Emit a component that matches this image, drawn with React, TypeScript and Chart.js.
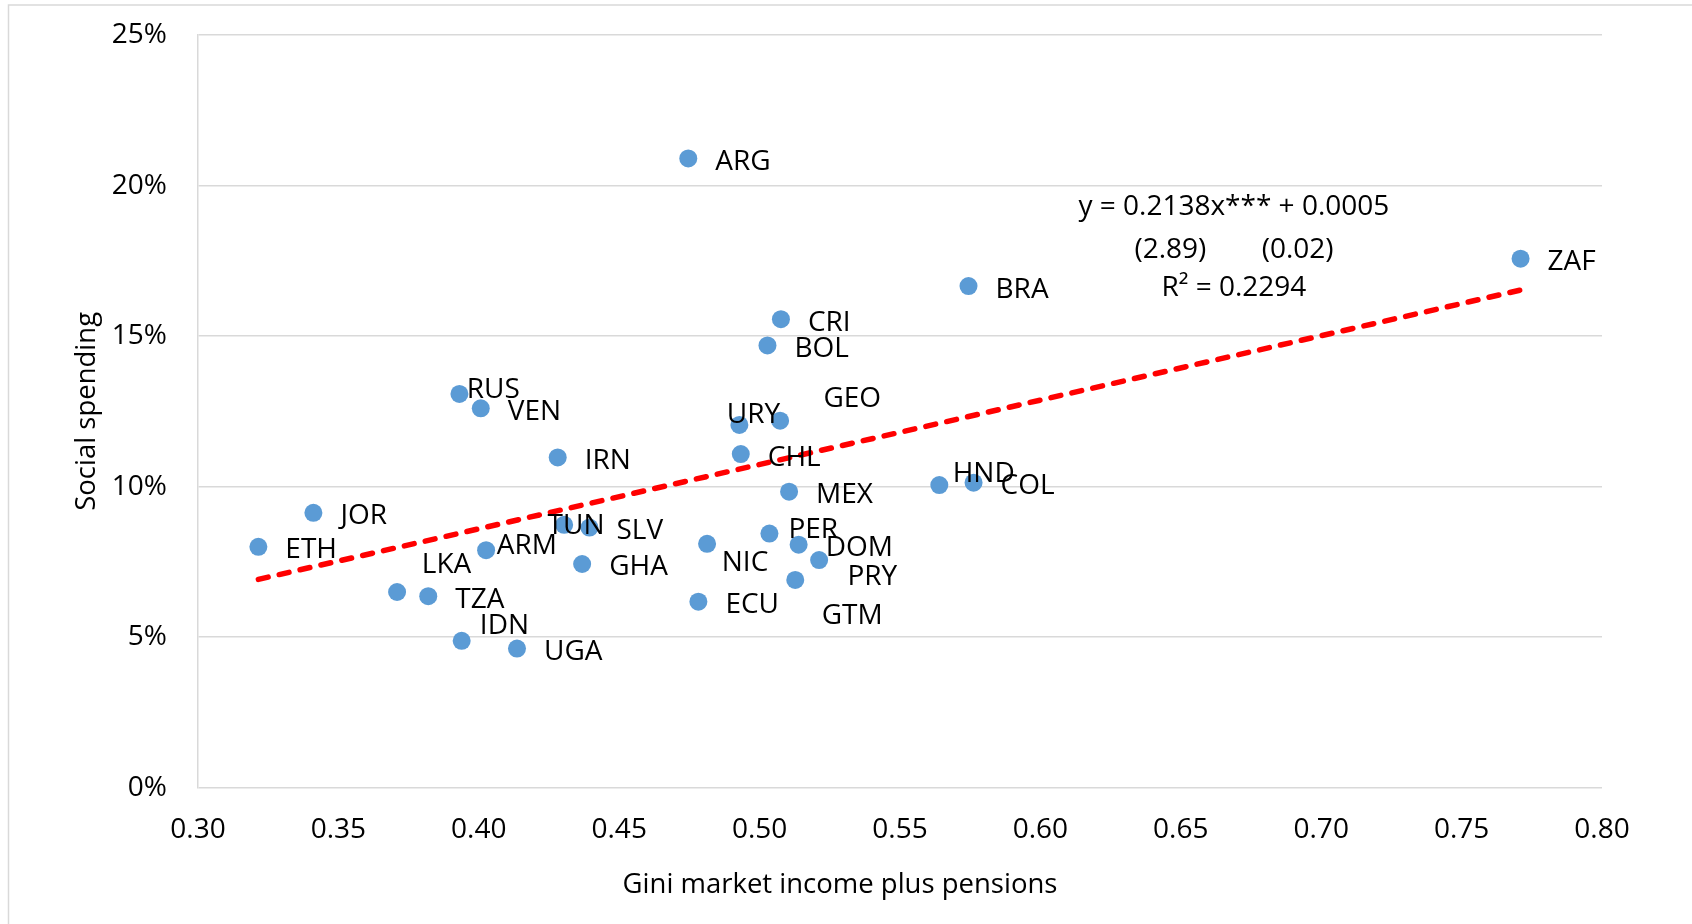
import React, { useEffect, useRef } from "react";
import { Chart, registerables } from "chart.js";

Chart.register(...registerables);

// ---- Data ----
const countries = ["ARG", "ZAF", "BRA", "CRI", "BOL", "RUS", "VEN", "URY", "GEO", "IRN", "CHL", "MEX", "HND", "COL", "JOR", "ETH", "TUN", "SLV", "ARM", "GHA", "NIC", "PER", "DOM", "PRY", "GTM", "ECU", "LKA", "TZA", "IDN", "UGA"];
const giniValues = [0.4746, 0.7710, 0.5744, 0.5076, 0.5028, 0.3931, 0.4007, 0.4928, 0.5073, 0.4281, 0.4933, 0.5105, 0.5640, 0.5762, 0.3411, 0.3215, 0.4304, 0.4394, 0.4026, 0.4368, 0.4813, 0.5035, 0.5139, 0.5212, 0.5127, 0.4782, 0.3709, 0.3820, 0.3939, 0.4136];
const spendingValues = [0.2090, 0.1757, 0.1666, 0.1556, 0.1469, 0.1308, 0.1260, 0.1205, 0.1219, 0.1097, 0.1108, 0.0983, 0.1005, 0.1013, 0.0913, 0.0800, 0.0873, 0.0864, 0.0789, 0.0743, 0.0810, 0.0844, 0.0807, 0.0756, 0.0690, 0.0618, 0.0650, 0.0636, 0.0488, 0.0462];

// Excel linear trendline (y = 0.2138x + 0.0005), endpoints as drawn
const trendX = [0.3215, 0.771];
const trendY = [0.0692, 0.1653];

const xTickValues = [0.30, 0.35, 0.40, 0.45, 0.50, 0.55, 0.60, 0.65, 0.70, 0.75, 0.80];
const xTickLabels = ["0.30", "0.35", "0.40", "0.45", "0.50", "0.55", "0.60", "0.65", "0.70", "0.75", "0.80"];
const yTickValues = [0, 0.05, 0.10, 0.15, 0.20, 0.25];
const yTickLabels = ["0%", "5%", "10%", "15%", "20%", "25%"];

const xAxisTitle = "Gini market income plus pensions";
const yAxisTitle = "Social spending";

// regression annotation texts, anchored in data coordinates
const annotationTexts = ["y = 0.2138x*** + 0.0005", "(2.89)", "(0.02)", "R\u00B2 = 0.2294"];
const annotationX = [0.6689, 0.6463, 0.6916, 0.6689];
const annotationY = [0.1934, 0.1794, 0.1794, 0.1667];

// ---- Label placement (pixel offsets from point centre to label's left / cap-centre) ----
const defaultOffset: [number, number] = [27, 1.5];
const labelOffsets: Record<string, [number, number]> = {
  RUS: [7.4, -5.7],
  URY: [-12.6, -11.7],
  GEO: [43.3, -24],
  TUN: [-16.6, -1],
  ARM: [10.7, -6],
  NIC: [14.7, 17.3],
  PER: [19, -6],
  PRY: [28.3, 15],
  GTM: [26.4, 34],
  LKA: [24.7, -28.7],
  IDN: [18.2, -16.3],
  HND: [13.4, -13.3],
};

const FONT = "'Open Sans', 'DejaVu Sans', sans-serif";

export default function App() {
  const ref = useRef<HTMLCanvasElement>(null);

  useEffect(() => {
    const canvas = ref.current;
    if (!canvas) return;

    const framePlugin = {
      id: "frame",
      beforeDraw(chart: any) {
        const ctx = chart.ctx;
        ctx.save();
        ctx.fillStyle = "#ffffff";
        ctx.fillRect(0, 0, chart.width, chart.height);
        ctx.strokeStyle = "#D9D9D9";
        ctx.lineWidth = 1.5;
        ctx.strokeRect(8.5, 5, chart.width + 20, chart.height + 20);
        ctx.restore();
      },
    };

    const textPlugin = {
      id: "texts",
      afterDatasetsDraw(chart: any) {
        const ctx = chart.ctx;
        const meta = chart.getDatasetMeta(0);
        const xs = chart.scales.x;
        const ys = chart.scales.y;
        ctx.save();
        ctx.fillStyle = "#000000";
        // data labels
        const lf = 28;
        ctx.font = `${lf}px ${FONT}`;
        ctx.textAlign = "left";
        ctx.textBaseline = "alphabetic";
        meta.data.forEach((el: any, i: number) => {
          const off = labelOffsets[countries[i]] ?? defaultOffset;
          ctx.fillText(countries[i], el.x + off[0], el.y + off[1] + lf * 0.357);
        });
        // regression annotation
        const af = 28;
        ctx.font = `${af}px ${FONT}`;
        ctx.textAlign = "center";
        annotationTexts.forEach((t, i) => {
          ctx.fillText(t, xs.getPixelForValue(annotationX[i]), ys.getPixelForValue(annotationY[i]) + af * 0.357);
        });
        // axis titles
        const tf = 27.5;
        ctx.font = `${tf}px ${FONT}`;
        ctx.textAlign = "center";
        ctx.fillText(xAxisTitle, 840, 893);
        ctx.save();
        ctx.translate(95, (chart.chartArea.top + chart.chartArea.bottom) / 2);
        ctx.rotate(-Math.PI / 2);
        ctx.fillText(yAxisTitle, 0, 0);
        ctx.restore();
        ctx.restore();
      },
    };

    const chart = new Chart(canvas, {
      type: "scatter",
      data: {
        datasets: [
          {
            type: "scatter",
            label: "Countries",
            data: giniValues.map((x, i) => ({ x, y: spendingValues[i] })),
            backgroundColor: "#5B9BD5",
            borderWidth: 0,
            pointRadius: 9,
            pointHoverRadius: 9,
            order: 1,
          },
          {
            type: "line",
            label: "Trend",
            data: trendX.map((x, i) => ({ x, y: trendY[i] })),
            borderColor: "#FF0000",
            borderWidth: 5.5,
            borderDash: [10, 11.4],
            borderCapStyle: "round",
            pointRadius: 0,
            fill: false,
            tension: 0,
            order: 0,
          } as any,
        ],
      },
      options: {
        animation: false,
        responsive: false,
        maintainAspectRatio: false,
        devicePixelRatio: 1,
        layout: { padding: { top: 35, right: 90, bottom: 0, left: 0 } },
        plugins: {
          legend: { display: false },
          tooltip: { enabled: false },
        },
        scales: {
          x: {
            type: "linear",
            min: 0.3,
            max: 0.8,
            afterBuildTicks: (s: any) => {
              s.ticks = xTickValues.map((v) => ({ value: v }));
            },
            afterFit: (s: any) => {
              s.height = 136.3;
              s.paddingLeft = 0;
              s.paddingRight = 0;
            },
            ticks: {
              callback: (_v: any, i: number) => xTickLabels[i],
              font: { family: FONT, size: 28 },
              color: "#000000",
              padding: 25.5,
              maxRotation: 0,
            },
            grid: { display: false, drawTicks: false },
            border: { display: false },
          },
          y: {
            type: "linear",
            min: 0,
            max: 0.25,
            afterBuildTicks: (s: any) => {
              s.ticks = yTickValues.map((v) => ({ value: v }));
            },
            afterFit: (s: any) => {
              s.width = 198;
              s.paddingTop = 0;
              s.paddingBottom = 0;
            },
            ticks: {
              callback: (_v: any, i: number) => yTickLabels[i],
              font: { family: FONT, size: 28 },
              color: "#000000",
              padding: 31,
            },
            grid: { color: "#D9D9D9", lineWidth: 1.5, drawTicks: false },
            border: { display: true, color: "#D9D9D9", width: 1.5 },
          },
        },
      },
      plugins: [framePlugin, textPlugin],
    });

    return () => chart.destroy();
  }, []);

  return (
    <div style={{ position: "fixed", left: 0, top: 0, width: 1692, height: 924, background: "#fff" }}>
      <canvas ref={ref} width={1692} height={924} style={{ display: "block", width: 1692, height: 924 }} />
    </div>
  );
}
